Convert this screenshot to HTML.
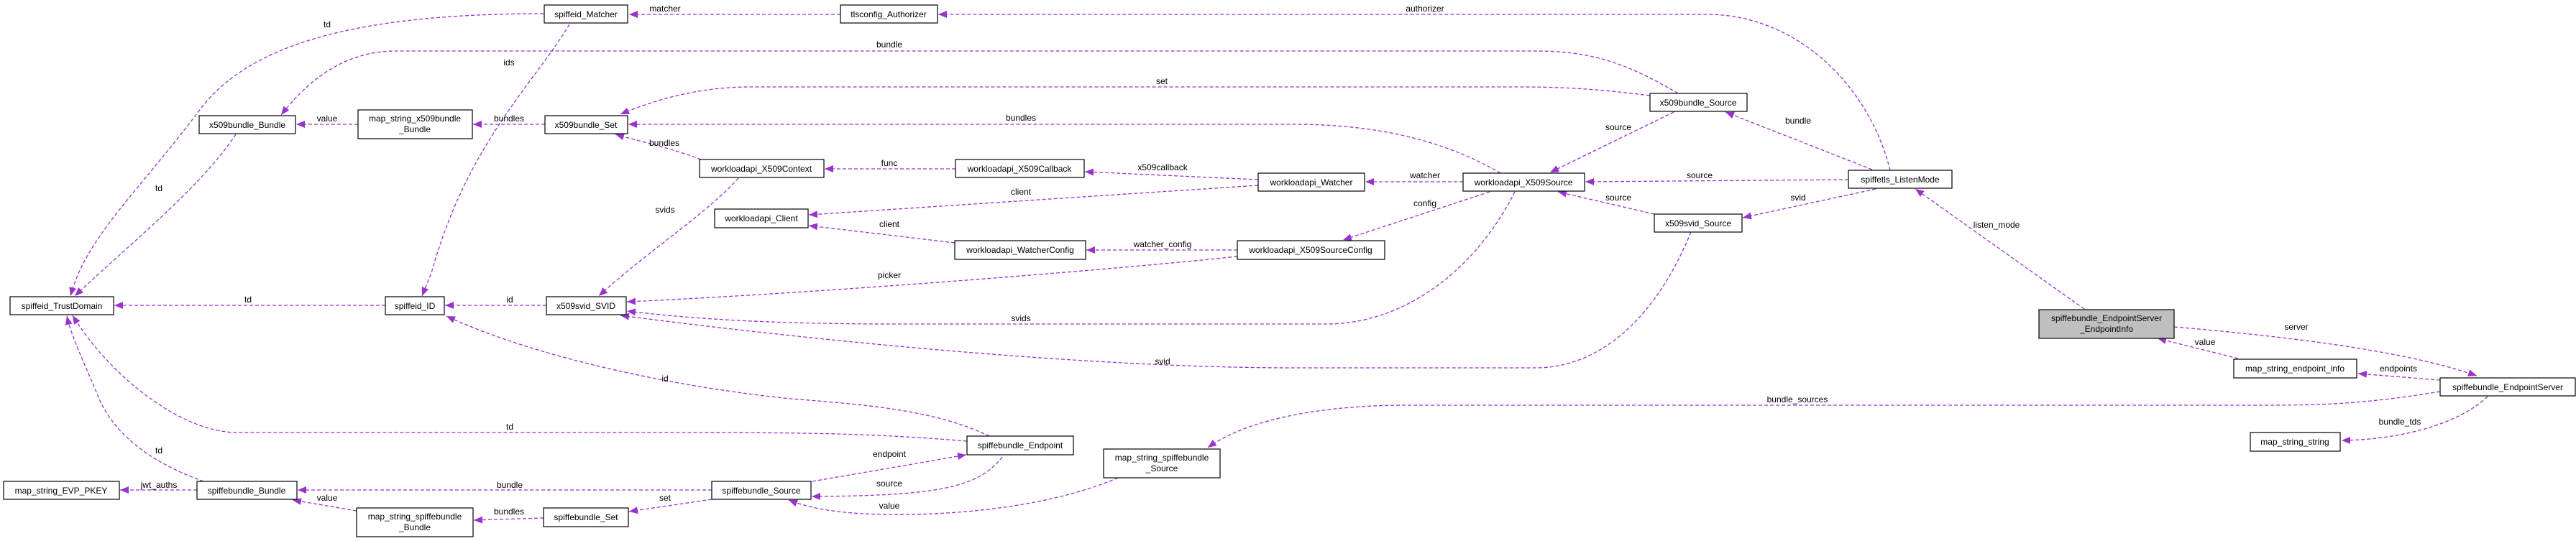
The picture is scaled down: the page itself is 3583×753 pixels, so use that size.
<!DOCTYPE html>
<html><head><meta charset="utf-8"><style>
html,body{margin:0;padding:0;background:#fff;}
svg{display:block;}
text{font-family:"Liberation Sans",sans-serif;font-size:12px;fill:#000;}
.e{fill:none;stroke:#9a32cd;stroke-width:1.3;stroke-dasharray:5,3;marker-end:url(#a);}
.n{fill:#fff;stroke:#000;stroke-width:1.2;}
</style></head><body>
<svg width="3583" height="753" viewBox="0 0 3583 753" xmlns="http://www.w3.org/2000/svg">
<defs><marker id="a" markerUnits="userSpaceOnUse" markerWidth="14" markerHeight="12" refX="12" refY="5" orient="auto"><path d="M0,0 L12,5 L0,10 z" fill="#9a32cd"/></marker></defs>
<g>
<path class="e" d="M756,19 C500,19 350,60 280,150 C190,270 120,330 98,412"/>
<path class="e" d="M792,34 C740,120 650,200 600,380 L587,412"/>
<path class="e" d="M1169,20 L875,20"/>
<path class="e" d="M2629,237 C2600,120 2500,20 2374,20 L1305,20"/>
<path class="e" d="M2334,130 C2250,80 2200,71 2133,71 L551,71 C480,71 430,110 391,160"/>
<path class="e" d="M2295,133 C2200,121 2150,121 2100,121 L1043,121 C980,121 920,135 863,159"/>
<path class="e" d="M2087,241 C2000,190 1900,173 1800,173 L874,173"/>
<path class="e" d="M975,222 C930,205 890,197 856,187"/>
<path class="e" d="M758,173 L658,173"/>
<path class="e" d="M498,173 L412,173"/>
<path class="e" d="M328,187 C280,260 180,340 104,412"/>
<path class="e" d="M1027,248 C980,300 900,350 833,412"/>
<path class="e" d="M1329,235 L1147,235"/>
<path class="e" d="M1750,250 L1509,239"/>
<path class="e" d="M1750,258 L1125,299"/>
<path class="e" d="M1328,338 L1125,314"/>
<path class="e" d="M1721,348 L1511,348"/>
<path class="e" d="M1721,357 C1500,380 1100,410 872,420"/>
<path class="e" d="M2035,253 L1899,253"/>
<path class="e" d="M2072,267 L1868,334"/>
<path class="e" d="M2107,267 C2050,380 1950,451 1845,451 L1250,451 C1050,451 950,442 872,433"/>
<path class="e" d="M2352,323 C2300,450 2220,512 2136,512 L1800,512 C1500,512 1100,470 863,439"/>
<path class="e" d="M2328,156 L2156,240"/>
<path class="e" d="M2604,236 L2400,156"/>
<path class="e" d="M2571,250 L2205,253"/>
<path class="e" d="M2301,298 L2167,267"/>
<path class="e" d="M2609,263 L2424,303"/>
<path class="e" d="M2899,430 L2664,263"/>
<path class="e" d="M3024,455 C3200,470 3350,490 3445,523"/>
<path class="e" d="M3113,499 L3001,471"/>
<path class="e" d="M3394,529 L3280,520"/>
<path class="e" d="M3460,552 C3420,590 3340,612 3257,613"/>
<path class="e" d="M3394,545 C3300,560 3250,564 3150,564 L1956,564 C1850,564 1740,580 1680,623"/>
<path class="e" d="M760,425 L619,425"/>
<path class="e" d="M536,425 L159,425"/>
<path class="e" d="M1376,607 C1300,570 1200,563 1100,555 C950,540 750,500 621,440"/>
<path class="e" d="M1345,614 C1200,602 1100,602 900,602 L330,602 C250,602 150,520 101,439"/>
<path class="e" d="M283,670 C200,640 160,600 140,560 C115,500 100,470 93,440"/>
<path class="e" d="M274,682 L167,682"/>
<path class="e" d="M990,682 L414,682"/>
<path class="e" d="M496,711 L407,696"/>
<path class="e" d="M756,721 L659,724"/>
<path class="e" d="M990,695 L875,712"/>
<path class="e" d="M1130,670 L1344,633"/>
<path class="e" d="M1394,636 C1360,680 1300,690 1129,691"/>
<path class="e" d="M1555,665 C1450,710 1300,720 1200,715 C1150,712 1120,705 1097,696"/>
</g>
<g>
<rect class="n" x="757" y="7" width="116" height="25"/><text x="815" y="24" text-anchor="middle">spiffeid_Matcher</text>
<rect class="n" x="1169" y="7" width="135" height="25"/><text x="1236" y="24" text-anchor="middle">tlsconfig_Authorizer</text>
<rect class="n" x="277" y="161" width="134" height="25"/><text x="344" y="178" text-anchor="middle">x509bundle_Bundle</text>
<rect class="n" x="498" y="153" width="159" height="40"/><text x="577" y="169" text-anchor="middle">map_string_x509bundle</text><text x="577" y="184" text-anchor="middle">_Bundle</text>
<rect class="n" x="758" y="161" width="115" height="25"/><text x="815" y="178" text-anchor="middle">x509bundle_Set</text>
<rect class="n" x="2295" y="130" width="135" height="25"/><text x="2362" y="147" text-anchor="middle">x509bundle_Source</text>
<rect class="n" x="973" y="222" width="173" height="25"/><text x="1059" y="239" text-anchor="middle">workloadapi_X509Context</text>
<rect class="n" x="1329" y="222" width="179" height="25"/><text x="1418" y="239" text-anchor="middle">workloadapi_X509Callback</text>
<rect class="n" x="1750" y="241" width="148" height="25"/><text x="1824" y="258" text-anchor="middle">workloadapi_Watcher</text>
<rect class="n" x="2035" y="241" width="169" height="25"/><text x="2119" y="258" text-anchor="middle">workloadapi_X509Source</text>
<rect class="n" x="2571" y="237" width="144" height="25"/><text x="2643" y="254" text-anchor="middle">spiffetls_ListenMode</text>
<rect class="n" x="994" y="291" width="130" height="26"/><text x="1059" y="308" text-anchor="middle">workloadapi_Client</text>
<rect class="n" x="2301" y="298" width="122" height="25"/><text x="2362" y="315" text-anchor="middle">x509svid_Source</text>
<rect class="n" x="1328" y="335" width="182" height="26"/><text x="1419" y="352" text-anchor="middle">workloadapi_WatcherConfig</text>
<rect class="n" x="1721" y="335" width="205" height="26"/><text x="1823" y="352" text-anchor="middle">workloadapi_X509SourceConfig</text>
<rect class="n" x="14" y="413" width="144" height="25"/><text x="86" y="430" text-anchor="middle">spiffeid_TrustDomain</text>
<rect class="n" x="536" y="413" width="82" height="25"/><text x="577" y="430" text-anchor="middle">spiffeid_ID</text>
<rect class="n" x="760" y="413" width="111" height="25"/><text x="815" y="430" text-anchor="middle">x509svid_SVID</text>
<rect x="2836" y="431" width="188" height="40" fill="#bfbfbf" stroke="#000" stroke-width="1.2"/><text x="2930" y="447" text-anchor="middle">spiffebundle_EndpointServer</text><text x="2930" y="462" text-anchor="middle">_EndpointInfo</text>
<rect class="n" x="3107" y="500" width="171" height="26"/><text x="3192" y="517" text-anchor="middle">map_string_endpoint_info</text>
<rect class="n" x="3394" y="526" width="188" height="25"/><text x="3488" y="543" text-anchor="middle">spiffebundle_EndpointServer</text>
<rect class="n" x="3130" y="602" width="125" height="26"/><text x="3192" y="619" text-anchor="middle">map_string_string</text>
<rect class="n" x="1345" y="607" width="148" height="26"/><text x="1419" y="624" text-anchor="middle">spiffebundle_Endpoint</text>
<rect class="n" x="1535" y="625" width="162" height="40"/><text x="1616" y="641" text-anchor="middle">map_string_spiffebundle</text><text x="1616" y="656" text-anchor="middle">_Source</text>
<rect class="n" x="5" y="670" width="161" height="25"/><text x="85" y="687" text-anchor="middle">map_string_EVP_PKEY</text>
<rect class="n" x="274" y="670" width="139" height="25"/><text x="343" y="687" text-anchor="middle">spiffebundle_Bundle</text>
<rect class="n" x="990" y="670" width="138" height="25"/><text x="1059" y="687" text-anchor="middle">spiffebundle_Source</text>
<rect class="n" x="496" y="707" width="162" height="40"/><text x="577" y="723" text-anchor="middle">map_string_spiffebundle</text><text x="577" y="738" text-anchor="middle">_Bundle</text>
<rect class="n" x="756" y="707" width="118" height="26"/><text x="815" y="724" text-anchor="middle">spiffebundle_Set</text>
</g>
<g text-anchor="middle">
<text x="455" y="38">td</text><text x="708" y="91">ids</text><text x="455" y="169">value</text><text x="708" y="169">bundles</text><text x="221" y="266">td</text>
<text x="345" y="421">td</text><text x="709" y="421">id</text><text x="709" y="598">td</text><text x="221" y="631">td</text><text x="221" y="679">jwt_auths</text><text x="709" y="679">bundle</text><text x="455" y="697">value</text><text x="708" y="716">bundles</text>
<text x="925" y="16">matcher</text><text x="1237" y="66">bundle</text><text x="1616" y="117">set</text><text x="1420" y="168">bundles</text><text x="924" y="203">bundles</text><text x="1237" y="231">func</text><text x="1617" y="237">x509callback</text><text x="1420" y="271">client</text><text x="925" y="296">svids</text><text x="1237" y="316">client</text><text x="1617" y="344">watcher_config</text>
<text x="1237" y="387">picker</text><text x="1420" y="447">svids</text><text x="1617" y="507">svid</text><text x="925" y="531">id</text><text x="1237" y="636">endpoint</text><text x="1237" y="677">source</text><text x="925" y="697">set</text><text x="1237" y="708">value</text>
<text x="1982" y="16">authorizer</text><text x="2251" y="181">source</text><text x="2501" y="172">bundle</text><text x="1982" y="248">watcher</text><text x="2364" y="248">source</text><text x="1982" y="287">config</text><text x="2251" y="279">source</text><text x="2501" y="279">svid</text>
<text x="2777" y="317">listen_mode</text><text x="3194" y="459">server</text><text x="3067" y="480">value</text><text x="3336" y="517">endpoints</text><text x="3338" y="591">bundle_tds</text><text x="2500" y="560">bundle_sources</text>
</g>
</svg>
</body></html>
